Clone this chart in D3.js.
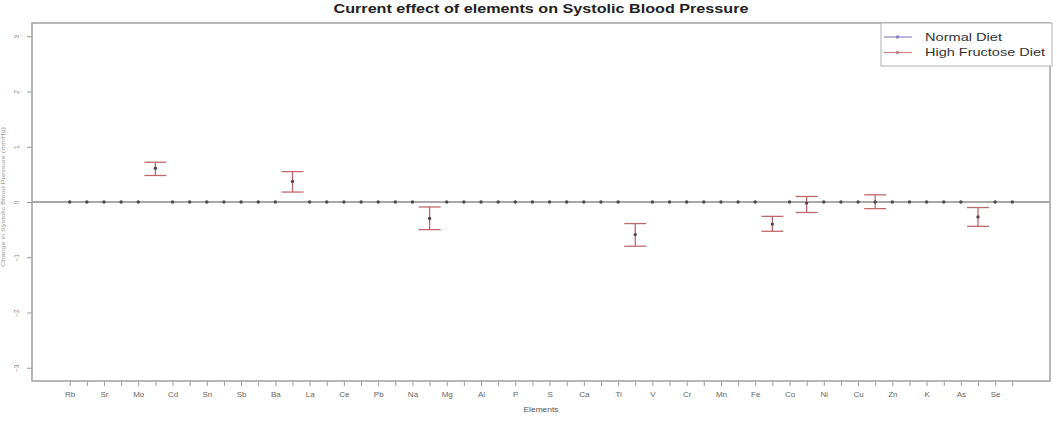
<!DOCTYPE html>
<html>
<head>
<meta charset="utf-8">
<script src="https://cdn.jsdelivr.net/npm/d3@7"></script>
<style>
  body { margin: 0; background: #ffffff; }
  svg { display: block; font-family: "Liberation Sans", Arial, sans-serif; }
</style>
</head>
<body>
<svg id="chart"></svg>
<script>
const width = 1057
const height = 428

// Data
const elements = ["Rb", "Sr", "Mo", "Cd", "Sn", "Sb", "Ba", "La", "Ce", "Pb", "Na", "Mg", "Al", "P",
    "S", "Ca", "Ti", "V", "Cr", "Mn", "Fe", "Co", "Ni", "Cu", "Zn", "K", "As", "Se"]
const normalMean = [0, 0, 0, 0, 0, 0, 0, 0, 0, 0, 0, 0, 0, 0, 0, 0, 0, 0, 0, 0, 0, 0, 0, 0, 0, 0, 0, 0]
// high fructose diet: only elements with an effect have an interval
const fructoseMean = [0, 0, 0.61, 0, 0, 0, 0.37, 0, 0, 0, -0.30, 0, 0, 0,
    0, 0, -0.59, 0, 0, 0, -0.40, -0.02, 0, 0.00, 0, 0, -0.27, 0]
const fructoseLower = [null, null, 0.48, null, null, null, 0.18, null, null, null, -0.50, null, null, null,
    null, null, -0.80, null, null, null, -0.53, -0.19, null, -0.12, null, null, -0.44, null]
const fructoseUpper = [null, null, 0.72, null, null, null, 0.55, null, null, null, -0.09, null, null, null,
    null, null, -0.39, null, null, null, -0.26, 0.10, null, 0.13, null, null, -0.10, null]
const yTicks = [-3, -2, -1, 0, 1, 2, 3]
const seriesNames = ["Normal Diet", "High Fructose Diet"]

// Styling
const frameColor = "#a6a6a6"
const textColor = "#555555"
const pointColor = "#4a4a4a"
const barColor = "#c0686b"
const legendColors = ["#8a86c4", "#c98487"]
const legendTextWidth = [77, 120]

// Points: normal diet at even slots, high fructose at odd slots
const points = []
elements.forEach((el, i) => {
    points.push({ slot: 2 * i, element: el, value: normalMean[i], lo: null, hi: null })
    points.push({ slot: 2 * i + 1, element: el, value: fructoseMean[i], lo: fructoseLower[i], hi: fructoseUpper[i] })
})
const nSlots = points.length

const margin = { left: 32, right: 7, top: 23, bottom: 47 }
const plotRight = width - margin.right
const plotBottom = height - margin.bottom

const pad = (nSlots - 1) * 0.04
const x = d3.scaleLinear()
    .domain([-pad, nSlots - 1 + pad])
    .range([margin.left, plotRight])

const y = d3.scaleLinear()
    .domain([-3.24, 3.24])
    .range([plotBottom, margin.top])

const svg = d3.select("#chart")
    .attr("width", width)
    .attr("height", height)

// Title (the source picture is stretched sideways, so fit the width)
svg.append("text")
    .attr("x", (margin.left + plotRight) / 2)
    .attr("y", 13)
    .attr("text-anchor", "middle")
    .attr("font-size", 13.5)
    .attr("font-weight", "bold")
    .attr("fill", "#222")
    .attr("textLength", 415)
    .attr("lengthAdjust", "spacingAndGlyphs")
    .text("Current effect of elements on Systolic Blood Pressure")

// Zero reference line
svg.append("line")
    .attr("x1", margin.left)
    .attr("x2", plotRight)
    .attr("y1", y(0))
    .attr("y2", y(0))
    .attr("stroke", "#8c8c8c")
    .attr("stroke-width", 1.6)

// X axis
const xAxis = d3.axisBottom(x)
    .tickValues(d3.range(nSlots))
    .tickSize(5)
    .tickPadding(5)
    .tickFormat(i => i % 2 === 0 ? points[i].element : "")

const gx = svg.append("g")
    .attr("transform", `translate(0,${plotBottom})`)
    .call(xAxis)
gx.select(".domain").remove()
gx.selectAll(".tick line").attr("stroke", "#9a9a9a")
gx.selectAll(".tick text")
    .attr("fill", "#666")
    .attr("font-size", 8)
    .attr("font-family", "Liberation Sans, Arial, sans-serif")

// Y axis
const yAxis = d3.axisLeft(y)
    .tickValues(yTicks)
    .tickSize(5)
    .tickFormat(d3.format("d"))

const gy = svg.append("g")
    .attr("transform", `translate(${margin.left},0)`)
    .call(yAxis)
gy.select(".domain").remove()
gy.selectAll(".tick line").attr("stroke", "#9a9a9a")
gy.selectAll(".tick text")
    .attr("fill", "#888")
    .attr("font-size", 6.5)
    .attr("font-family", "Liberation Sans, Arial, sans-serif")
    .attr("text-anchor", "middle")
    .attr("x", null)
    .attr("dy", null)
    .attr("transform", "translate(-13,0) rotate(-90)")

// Axis titles
svg.append("text")
    .attr("x", (margin.left + plotRight) / 2)
    .attr("y", 412)
    .attr("text-anchor", "middle")
    .attr("font-size", 7)
    .attr("fill", textColor)
    .attr("textLength", 35)
    .attr("lengthAdjust", "spacingAndGlyphs")
    .text("Elements")

svg.append("text")
    .attr("transform", "translate(5,197) rotate(-90)")
    .attr("text-anchor", "middle")
    .attr("font-size", 5.5)
    .attr("fill", "#999")
    .attr("textLength", 140)
    .attr("lengthAdjust", "spacingAndGlyphs")
    .text("Change in Systolic Blood Pressure (mmHg)")

// Error bars
const withBars = points.filter(p => p.lo !== null)
const capHalf = 11

const bars = svg.append("g")
    .selectAll("g")
    .data(withBars)
    .enter()
    .append("g")
    .attr("stroke", barColor)
    .attr("stroke-width", 1.3)

bars.append("line")
    .attr("x1", p => x(p.slot))
    .attr("x2", p => x(p.slot))
    .attr("y1", p => y(p.lo))
    .attr("y2", p => y(p.hi))
bars.append("line")
    .attr("x1", p => x(p.slot) - capHalf)
    .attr("x2", p => x(p.slot) + capHalf)
    .attr("y1", p => y(p.lo))
    .attr("y2", p => y(p.lo))
bars.append("line")
    .attr("x1", p => x(p.slot) - capHalf)
    .attr("x2", p => x(p.slot) + capHalf)
    .attr("y1", p => y(p.hi))
    .attr("y2", p => y(p.hi))

// Points
svg.append("g")
    .selectAll("circle")
    .data(points)
    .enter()
    .append("circle")
    .attr("cx", p => x(p.slot))
    .attr("cy", p => y(p.value))
    .attr("r", 1.7)
    .attr("fill", pointColor)

// Plot frame
svg.append("rect")
    .attr("x", margin.left)
    .attr("y", margin.top)
    .attr("width", plotRight - margin.left)
    .attr("height", plotBottom - margin.top)
    .attr("fill", "none")
    .attr("stroke", frameColor)
    .attr("stroke-width", 1.6)

// Legend
const legend = svg.append("g")
    .attr("transform", "translate(881,23)")

legend.append("rect")
    .attr("width", 171)
    .attr("height", 43)
    .attr("fill", "#fff")
    .attr("stroke", "#b0b0b0")
    .attr("stroke-width", 1)

const rows = legend.selectAll(".row")
    .data(seriesNames)
    .enter()
    .append("g")
    .attr("class", "row")
    .attr("transform", (d, i) => `translate(0,${14 + i * 15.5})`)

rows.append("line")
    .attr("x1", 3)
    .attr("x2", 31)
    .attr("stroke", (d, i) => legendColors[i])
    .attr("stroke-width", 1.2)
rows.append("circle")
    .attr("cx", 16.5)
    .attr("r", 1.8)
    .attr("fill", (d, i) => legendColors[i])
rows.append("text")
    .attr("x", 44)
    .attr("dy", "0.35em")
    .attr("font-size", 11)
    .attr("fill", "#333")
    .attr("textLength", (d, i) => legendTextWidth[i])
    .attr("lengthAdjust", "spacingAndGlyphs")
    .text(d => d)
</script>
</body>
</html>
